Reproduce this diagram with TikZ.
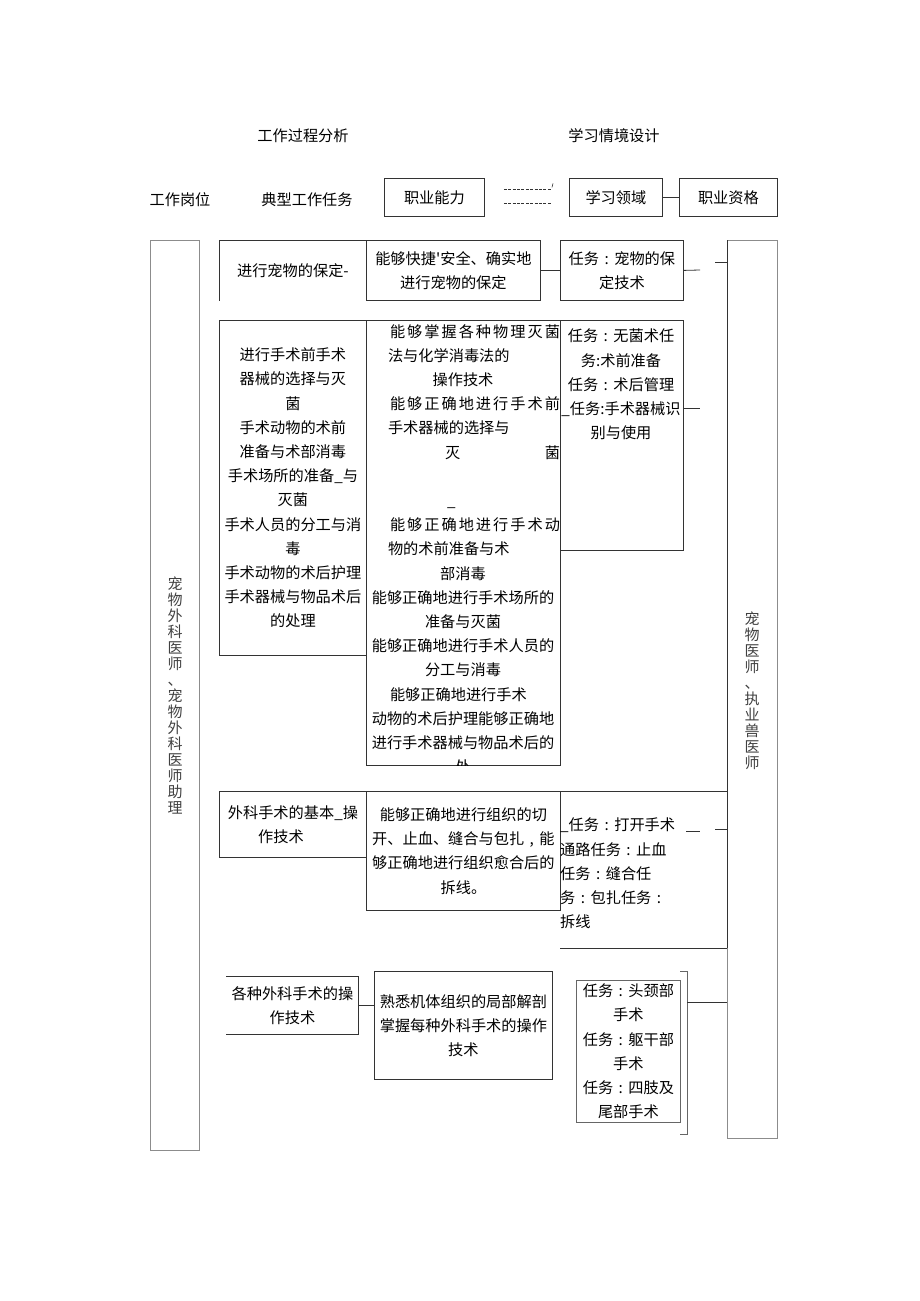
\documentclass[tikz,border=0pt]{standalone}
\usepackage{fontspec}
\newfontfamily\cjk{Noto Sans CJK SC}
\usetikzlibrary{positioning,calc}
\newcommand{\spreadln}[1]{\makebox[194pt][l]{\hspace*{24pt}\makebox[170pt][s]{#1}}}
\newcommand{\leftln}[2]{\makebox[194pt][l]{\hspace*{#1}#2}}
\newcommand{\fwc}{\makebox[1em]{:}}
\newcommand{\fwcomma}{\makebox[1em]{,}}

\begin{document}
\begin{tikzpicture}[x=1pt, y=-1pt,
  font=\cjk\fontsize{15.2}{24.2}\selectfont,
  rule/.style={draw=black!80, line width=0.8pt},
  box/.style={rule, anchor=north west, align=center, inner sep=0pt},
  txt/.style={align=center, inner sep=0pt},
  tallbox/.style={draw=black!45, line width=0.9pt, anchor=north west, inner sep=0pt},
  vtext/.style={align=center, inner sep=0pt, text=black!75,
                font=\cjk\fontsize{15}{16}\selectfont},
  dashln/.style={rule, line width=0.7pt, dash pattern=on 3pt off 1.4pt},
]
\useasboundingbox (0,0) rectangle (920,1301);

% headings
\node[txt] (procttl) at (303,136) {工作过程分析};
\node[txt] (sitttl) at (614,136) {学习情境设计};
\node[txt] (postttl) at (180,200) {工作岗位};
\node[txt] (taskttl) at (307,200) {典型工作任务};
\node[box, minimum width=100pt, minimum height=38pt] (ablhd) at (384,178) {职业能力};
\node[box, minimum width=93pt, minimum height=38pt] (fieldhd) at (569,178) {学习领域};
\node[box, minimum width=98pt, minimum height=38pt] (qualhd) at (679,178) {职业资格};
\draw[dashln] ($(ablhd.east)+(19,-8)$) -- ($(fieldhd.west)+(-18,-8)$);
\draw[dashln] ($(ablhd.east)+(19,6)$) -- ($(fieldhd.west)+(-18,6)$);
\draw[rule, line width=0.6pt] ($(fieldhd.west)+(-16,-14)$) -- ($(fieldhd.west)+(-17,-10)$);
\draw[rule] (fieldhd) -- (qualhd);

% posts and qualifications
\node[tallbox, minimum width=49pt, minimum height=910pt] (postbox) at (150,240) {};
\node[vtext] (postlbl) at (175,695)
  {宠\\物\\外\\科\\医\\师\\、\\宠\\物\\外\\科\\医\\师\\助\\理};
\node[tallbox, minimum width=50pt, minimum height=898pt] (qualbox) at (727,240) {};
\node[vtext] (quallbl) at (752,691) {宠\\物\\医\\师\\、\\执\\业\\兽\\医\\师};

% row 1
\node[box, draw=none, minimum width=147pt, minimum height=60pt] (task1) at (219,240) {进行宠物的保定-};
\draw[rule] (task1.south west) -- (task1.north west) -- (task1.north east);
\node[box, minimum width=174pt, minimum height=60pt] (abl1) at (366,240)
  {能够快捷'安全、确实地\\进行宠物的保定};
\node[box, minimum width=123pt, minimum height=60pt] (crs1) at (560,240) {任务\fwc 宠物的保\\定技术};
\draw[rule] (abl1) -- (crs1);
\coordinate (stub1) at (700,270);
\draw[rule] (crs1.east) -- (stub1);
\coordinate (tick1) at (715,262);
\draw[rule] (tick1) -- (tick1 -| qualbox.west);

% row 2
\node[box, minimum width=147pt, minimum height=335pt] (task2) at (219,320)
  {进行手术前手术\\器械的选择与灭\\菌\\手术动物的术前\\准备与术部消毒\\
   手术场所的准备\_与\\灭菌\hspace*{24pt}\\手术人员的分工与消\\毒\\手术动物的术后护理\\
   手术器械与物品术后\\的处理};
\node[box, minimum width=194pt, minimum height=445pt] (abl2) at (366,320) {};
\begin{scope}
\clip (abl2.north west) rectangle (abl2.south east);
\node[txt, anchor=north] (abl2txt) at (463,324)
  {\spreadln{能\hfill 够\hfill 掌\hfill 握\hfill 各\hfill 种\hfill 物\hfill 理\hfill 灭\hfill 菌}\\
   \leftln{22pt}{法与化学消毒法的}\\
   操作技术\\
   \spreadln{能\hfill 够\hfill 正\hfill 确\hfill 地\hfill 进\hfill 行\hfill 手\hfill 术\hfill 前}\\
   \leftln{22pt}{手术器械的选择与}\\
   \makebox[194pt][l]{\hspace*{79pt}灭\hfill 菌}\\
   \mbox{}\\
   \leftln{81pt}{\_}\\
   \spreadln{能\hfill 够\hfill 正\hfill 确\hfill 地\hfill 进\hfill 行\hfill 手\hfill 术\hfill 动}\\
   \leftln{22pt}{物的术前准备与术}\\
   部消毒\\
   能够正确地进行手术场所的\\
   准备与灭菌\\
   能够正确地进行手术人员的\\
   分工与消毒\\
   \leftln{24pt}{能够正确地进行手术}\\
   动物的术后护理能够正确地\\
   进行手术器械与物品术后的\\
   处};
\end{scope}
\node[box, minimum width=123pt, minimum height=230pt] (crs2) at (560,320) {};
\node[txt, anchor=north] (crs2txt) at (621,329)
  {任务\fwc 无菌术任\\务:术前准备\\任务\fwc 术后管理\\\_任务:手术器械识\\别与使用};
\coordinate (stub2) at (700,408);
\draw[rule] (stub2 -| crs2.east) -- (stub2);

% row 3
\node[box, minimum width=147pt, minimum height=66pt] (task3) at (219,791)
  {外科手术的基本\_操\\作技术\hspace*{24pt}};
\node[box, minimum width=194pt, minimum height=119pt] (abl3) at (366,791)
  {能够正确地进行组织的切\\开、止血、缝合与包扎\fwcomma 能\\够正确地进行组织愈合后的\\拆线。};
\node[txt, align=left, anchor=north west] (crs3txt) at (560,818)
  {\_任务\fwc 打开手术\\通路任务\fwc 止血\\任务\fwc 缝合任\\务\fwc 包扎任务\fwc\\拆线};
\coordinate (crs3bot) at (560,948);
\draw[rule] (task3.north east) -- (task3.north east -| qualbox.west);
\draw[rule] (crs3bot) -- (crs3bot -| qualbox.west);
\draw[rule] (qualbox.north west) -- (crs3bot -| qualbox.west);
\coordinate (stub3) at (686,831);
\draw[rule] (stub3) -- ++(14,0);
\coordinate (tick3) at (715,829);
\draw[rule] (tick3) -- (tick3 -| qualbox.west);

% row 4
\node[box, draw=none, minimum width=132pt, minimum height=58pt] (task4) at (226,976)
  {各种外科手术的操\\作技术};
\draw[rule] (task4.north west) -- (task4.north east) -- (task4.south east) -- (task4.south west);
\node[box, minimum width=178pt, minimum height=108pt] (abl4) at (374,971)
  {熟悉机体组织的局部解剖\\掌握每种外科手术的操作\\技术};
\node[box, draw=black!60, minimum width=104pt, minimum height=142pt] (crs4) at (576,980)
  {任务\fwc 头颈部\\手术\\任务\fwc 躯干部\\手术\\任务\fwc 四肢及\\尾部手术};
\draw[rule] (task4.east) -- (task4.east -| abl4.west);
\coordinate (brtop) at (687,971);
\coordinate (brbot) at (687,1134);
\draw[rule, draw=black!60] ($(brtop)+(-7,0)$) -- (brtop) -- (brbot) -- ($(brbot)+(-7,0)$);
\draw[rule] (brtop |- 0,1002) -- (qualbox.west |- 0,1002);
\end{tikzpicture}
\end{document}
